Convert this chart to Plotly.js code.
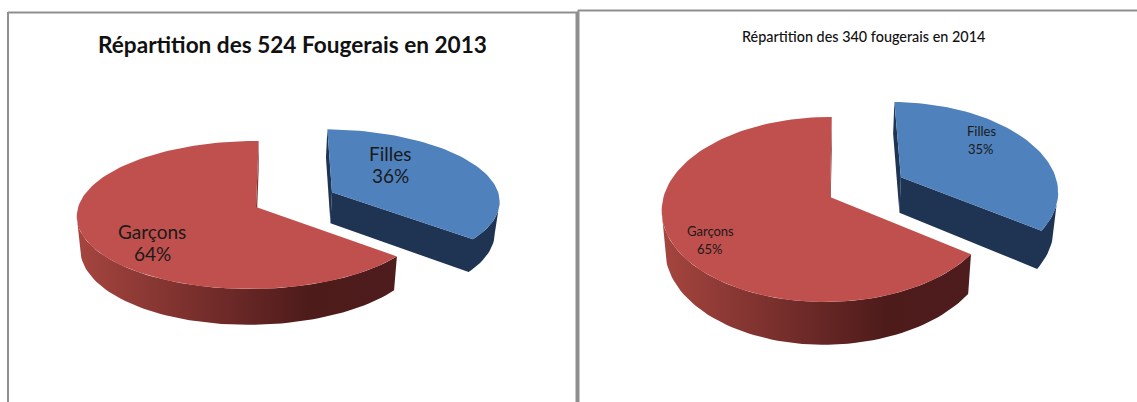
<!DOCTYPE html>
<html>
<head>
<meta charset="utf-8">
<script src="https://cdn.plot.ly/plotly-3.0.1.min.js"></script>
<style>html,body{margin:0;padding:0;background:#fff;overflow:hidden}#c{width:1137px;height:402px}</style>
</head>
<body>
<div id="c"></div>
<script>
// Data
const categories = ['Filles', 'Garçons'];
const values2013 = [36, 64];
const values2014 = [35, 65];
const title2013 = 'Répartition des 524 Fougerais en 2013';
const title2014 = 'Répartition des 340 fougerais en 2014';

// Colours
const topColors = ['#4f81bd', '#c0504d'];
const blueWall = '#1f3452';
const redWallScale = [[0, '#a6453f'], [0.72, '#4e1b1b'], [1, '#4e1c1c']];
const redCutColor = '#7d3230';

// Perspective view of each pie (a horizontal disc seen by a camera)
const view2013 = {cx: 256, cy: 207, A: 175, B: 73.1, p: 0.108, q: 0.016, k: 3, s: 0.98, h: 32, explode: 0.49};
const view2014 = {cx: 830, cy: 197, A: 164, B: 90.8, p: 0.135, q: 0.015, k: 2, s: 0.98, h: 37, explode: 0.5};

function project(v, X, Y, down) {
  const w = 1 + v.p * Y + v.q * X;
  const dx = (v.A * X + v.k * Y) / w;
  return [v.cx + (down ? dx * v.s : dx), v.cy - v.B * Y / w + (down ? v.h / w : 0)];
}
const rad = d => d * Math.PI / 180;
function rimPoint(v, o, deg, down) {
  return project(v, o[0] + Math.sin(rad(deg)), o[1] + Math.cos(rad(deg)), down);
}
function arc(v, o, a, b, down) {
  const pts = [], n = Math.ceil(Math.abs(b - a) / 2);
  for (let i = 0; i <= n; i++) pts.push(rimPoint(v, o, a + (b - a) * i / n, down));
  return pts;
}
// angle of the silhouette edge of a disc: where the rim is furthest left (sign -1) or right (sign 1)
function silhouette(v, o, a, b, sign) {
  let best = a, bestX = -Infinity;
  for (let d = a; d <= b; d += 0.5) {
    const x = sign * rimPoint(v, o, d, false)[0];
    if (x > bestX) { bestX = x; best = d; }
  }
  return best;
}
function poly(pts, extra) {
  return Object.assign({
    type: 'scatter', mode: 'lines', x: pts.map(p => p[0]), y: pts.map(p => p[1]),
    fill: 'toself', line: {width: 0}, hoverinfo: 'skip', showlegend: false
  }, extra);
}
function pieTraces(v, vals) {
  const total = vals[0] + vals[1];
  const split = 360 * vals[0] / total;
  const mid = split / 2;
  const o = [v.explode * Math.sin(rad(mid)), v.explode * Math.cos(rad(mid))];
  const zero = [0, 0];
  const t = [];
  // red slice: cut face at the top, curved wall, top face
  t.push(poly([project(v, 0, 0, false), rimPoint(v, zero, 360, false), rimPoint(v, zero, 360, true), project(v, 0, 0, true)], {fillcolor: redCutColor}));
  const redEnd = silhouette(v, zero, 200, 340, -1);
  const redLo = arc(v, zero, split, redEnd, true);
  t.push(poly(arc(v, zero, split, redEnd, false).concat(redLo.reverse()), {
    fillcolor: '#7d3230', fillgradient: {type: 'horizontal', colorscale: redWallScale}
  }));
  t.push(poly([project(v, 0, 0, false)].concat(arc(v, zero, split, 360, false)), {fillcolor: topColors[1]}));
  // blue slice: start face, then end face and curved wall as one shape, then top face
  t.push(poly([project(v, o[0], o[1], false), rimPoint(v, o, 0, false), rimPoint(v, o, 0, true), project(v, o[0], o[1], true)], {fillcolor: blueWall}));
  const blueStart = silhouette(v, o, 40, split, 1);
  t.push(poly(
    [project(v, o[0], o[1], false)]
      .concat(arc(v, o, split, blueStart, false))
      .concat(arc(v, o, blueStart, split, true))
      .concat([project(v, o[0], o[1], true)]),
    {fillcolor: blueWall}));
  t.push(poly([project(v, o[0], o[1], false)].concat(arc(v, o, 0, split, false)), {fillcolor: topColors[0]}));
  return t;
}

const traces = pieTraces(view2013, values2013).concat(pieTraces(view2014, values2014));

const fontL = 'Lato, "Open Sans", sans-serif';
const axis = {visible: false, fixedrange: true, showgrid: false, zeroline: false};
function text(x, y, s, size) {
  return {x: x, y: y, xref: 'x', yref: 'y', text: s, showarrow: false,
    font: {family: fontL, size: size, color: '#1a1a1a'}, xanchor: 'center', yanchor: 'middle'};
}
function labels(x, y, gap, i, vals, size) {
  return [text(x, y, categories[i], size), text(x, y + gap, vals[i] + '%', size)];
}
const frameColor = '#8f8f8f';
function frame(x0, y0, x1, y1, w) {
  return {type: 'line', xref: 'x', yref: 'y', x0, y0, x1, y1, line: {color: frameColor, width: w}};
}
const layout = {
  width: 1137, height: 402, margin: {l: 0, r: 0, t: 0, b: 0},
  paper_bgcolor: '#fff', plot_bgcolor: '#fff', showlegend: false,
  xaxis: Object.assign({range: [0, 1137]}, axis),
  yaxis: Object.assign({range: [402, 0]}, axis),
  shapes: [
    frame(8, 12.5, 578, 12.5, 2), frame(8, 12, 8, 402, 2), frame(577, 12, 577, 402, 3),
    frame(578, 10.5, 1137, 10.5, 2), frame(578.5, 10, 578.5, 402, 2)
  ],
  annotations: [
    {x: 292, y: 44, xref: 'x', yref: 'y', text: title2013, showarrow: false,
      font: {family: fontL, size: 22.6, color: '#111', weight: 700}},
    {x: 863, y: 36, xref: 'x', yref: 'y', text: title2014, showarrow: false,
      font: {family: fontL, size: 14.4, color: '#111', weight: 500}}
  ].concat(
    labels(390, 153, 22, 0, values2013, 19),
    labels(152, 231, 22, 1, values2013, 19),
    labels(981, 131, 18, 0, values2014, 13),
    labels(710, 231, 18, 1, values2014, 13)
  )
};
Plotly.newPlot('c', traces, layout, {displayModeBar: false, staticPlot: true});
</script>
</body>
</html>
